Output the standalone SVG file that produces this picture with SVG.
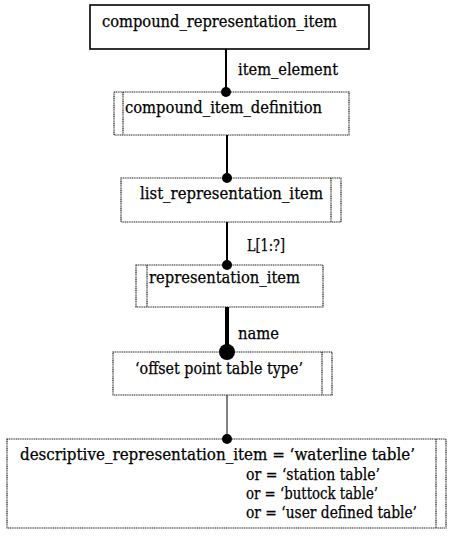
<svg xmlns="http://www.w3.org/2000/svg" width="450" height="536" viewBox="0 0 450 536">
<style>
text{font-family:"DejaVu Serif","Liberation Serif",serif;font-size:16px;fill:#000;stroke:#000;stroke-width:0.25}
.solid{fill:#fff;stroke:#000;stroke-width:1.6}
.dot{fill:#fff;stroke:#222;stroke-width:1.2;stroke-dasharray:1.2 0.6}
.strip{stroke:#222;stroke-width:1.2;stroke-dasharray:1.2 0.6}
.ln{stroke:#000;fill:none}
</style>
<rect width="450" height="536" fill="#fff"/>
<g id="compound_representation_item">
<rect class="solid" x="90" y="5" width="279" height="44"/>
<text x="102" y="27" textLength="235" lengthAdjust="spacingAndGlyphs">compound_representation_item</text>
</g>
<g id="compound_item_definition">
<rect class="dot" x="114" y="92" width="235" height="43"/>
<line class="strip" x1="123" y1="92" x2="123" y2="135"/>
<text x="125" y="113" textLength="197" lengthAdjust="spacingAndGlyphs">compound_item_definition</text>
</g>
<g id="list_representation_item">
<rect class="dot" x="121" y="178" width="220" height="44"/>
<line class="strip" x1="331" y1="178" x2="331" y2="222"/>
<text x="140" y="199" textLength="183" lengthAdjust="spacingAndGlyphs">list_representation_item</text>
</g>
<g id="representation_item">
<rect class="dot" x="136" y="265" width="187" height="42"/>
<line class="strip" x1="147" y1="265" x2="147" y2="307"/>
<text x="149" y="283" textLength="151" lengthAdjust="spacingAndGlyphs">representation_item</text>
</g>
<g id="offset_point_table_type">
<rect class="dot" x="113" y="352" width="219" height="43"/>
<line class="strip" x1="322" y1="352" x2="322" y2="395"/>
<text x="135" y="374" textLength="168" lengthAdjust="spacingAndGlyphs">‘offset point table type’</text>
</g>
<g id="descriptive_representation_item">
<rect class="dot" x="7" y="439" width="439" height="89"/>
<line class="strip" x1="436" y1="439" x2="436" y2="528"/>
<text x="20" y="460" textLength="395" lengthAdjust="spacingAndGlyphs">descriptive_representation_item = ‘waterline table’</text>
<text x="246" y="480" textLength="134" lengthAdjust="spacingAndGlyphs">or = ‘station table’</text>
<text x="246" y="499" textLength="132" lengthAdjust="spacingAndGlyphs">or = ‘buttock table’</text>
<text x="246" y="518" textLength="171" lengthAdjust="spacingAndGlyphs">or = ‘user defined table’</text>
</g>
<g id="connectors">
<line class="ln" x1="226" y1="49" x2="226" y2="92" stroke-width="2"/>
<circle cx="226" cy="92" r="5"/>
<text x="238" y="75" textLength="100" lengthAdjust="spacingAndGlyphs">item_element</text>
<line class="ln" x1="227" y1="135" x2="227" y2="178" stroke-width="2"/>
<circle cx="227" cy="178" r="5"/>
<line class="ln" x1="227" y1="222" x2="227" y2="265" stroke-width="2"/>
<circle cx="227" cy="265" r="5"/>
<text x="247" y="251" textLength="38" lengthAdjust="spacingAndGlyphs">L[1:?]</text>
<line class="ln" x1="227" y1="307" x2="227" y2="352" stroke-width="4"/>
<circle cx="227" cy="352" r="8"/>
<text x="238" y="339" textLength="41" lengthAdjust="spacingAndGlyphs">name</text>
<line class="ln" x1="227" y1="395" x2="227" y2="439" stroke-width="1"/>
<circle cx="227" cy="439" r="5"/>
</g>
</svg>
